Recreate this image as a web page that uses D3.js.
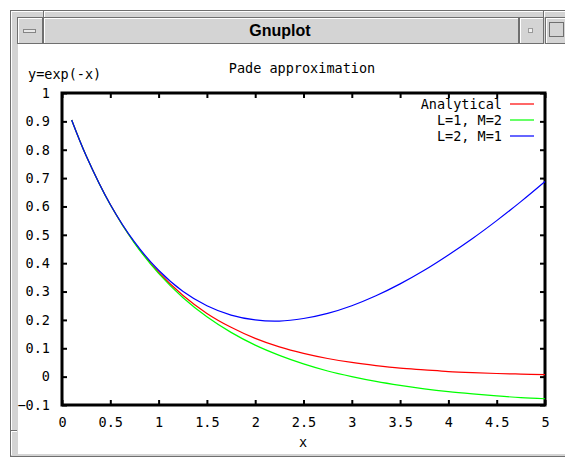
<!DOCTYPE html>
<html>
<head>
<meta charset="utf-8">
<script src="https://cdn.jsdelivr.net/npm/d3@7"></script>
<style>
  body { margin: 0; background: #fff; }
  text { font-family: "DejaVu Sans Mono", monospace; font-size: 13.5px; fill: #000; }
</style>
</head>
<body>
<script>
const width = 565;
const height = 457;

// sample points along x
const xValues = [0.1, 0.25, 0.5, 0.75, 1, 1.25, 1.5, 1.75, 2, 2.25, 2.5, 2.75, 3, 3.25, 3.5, 3.75, 4, 4.25, 4.5, 4.75, 5];
// y=exp(-x)
const analytical = [0.905, 0.779, 0.607, 0.472, 0.368, 0.287, 0.223, 0.174, 0.135, 0.105, 0.082, 0.064, 0.050, 0.039, 0.030, 0.024, 0.018, 0.014, 0.011, 0.009, 0.007];
// L=1, M=2
const padeL1M2 = [0.905, 0.779, 0.606, 0.471, 0.364, 0.279, 0.211, 0.156, 0.111, 0.075, 0.045, 0.020, 0.000, -0.017, -0.031, -0.043, -0.053, -0.061, -0.068, -0.074, -0.078];
// L=2, M=1
const padeL2M1 = [0.905, 0.779, 0.607, 0.475, 0.375, 0.301, 0.250, 0.217, 0.200, 0.196, 0.205, 0.223, 0.250, 0.285, 0.327, 0.375, 0.429, 0.487, 0.550, 0.617, 0.688];

const seriesNames = ["Analytical", "L=1, M=2", "L=2, M=1"];
const seriesColors = ["#ff0000", "#00ff00", "#0000ff"];

const xTicks = [0, 0.5, 1, 1.5, 2, 2.5, 3, 3.5, 4, 4.5, 5];
const yTicks = [-0.1, 0, 0.1, 0.2, 0.3, 0.4, 0.5, 0.6, 0.7, 0.8, 0.9, 1];

const svg = d3.select("body").append("svg")
  .attr("width", width)
  .attr("height", height);

// --- window frame ---
const frameFill = "#d4d4d4";
const dark = "#6f6f6f";
const win = svg.append("g").attr("shape-rendering", "crispEdges");

win.append("rect").attr("x", 10).attr("y", 10).attr("width", 560).attr("height", 446)
  .attr("fill", frameFill).attr("stroke", dark);
win.append("line").attr("x1", 11).attr("x2", 570).attr("y1", 11.5).attr("y2", 11.5).attr("stroke", "#fff");
win.append("line").attr("x1", 11.5).attr("x2", 11.5).attr("y1", 11).attr("y2", 455).attr("stroke", "#fff");
// notches in the frame
[43, 543].forEach(x => {
  win.append("line").attr("x1", x + 0.5).attr("x2", x + 0.5).attr("y1", 10).attr("y2", 17).attr("stroke", dark);
  win.append("line").attr("x1", x + 1.5).attr("x2", x + 1.5).attr("y1", 11).attr("y2", 17).attr("stroke", "#fff");
});
win.append("line").attr("x1", 10).attr("x2", 17).attr("y1", 430.5).attr("y2", 430.5).attr("stroke", dark);
win.append("line").attr("x1", 11).attr("x2", 17).attr("y1", 431.5).attr("y2", 431.5).attr("stroke", "#fff");

// title bar pieces
function bevel(x, y, w, h) {
  win.append("rect").attr("x", x + 0.5).attr("y", y + 0.5).attr("width", w).attr("height", h)
    .attr("fill", frameFill).attr("stroke", dark);
  win.append("path").attr("d", `M${x + 1.5},${y + h - 0.5}V${y + 1.5}H${x + w - 0.5}`)
    .attr("fill", "none").attr("stroke", "#fff");
}
bevel(17, 17, 25, 26);
bevel(43, 17, 475, 26);
bevel(519, 17, 24, 26);
bevel(545, 17, 30, 26);
win.append("rect").attr("x", 23).attr("y", 29).attr("width", 12).attr("height", 3)
  .attr("fill", "#e8e8e8").attr("stroke", dark).attr("stroke-width", 0.8);
win.append("rect").attr("x", 528).attr("y", 28).attr("width", 4).attr("height", 4)
  .attr("fill", "#f0f0f0").attr("stroke", "#888").attr("stroke-width", 0.8);
win.append("rect").attr("x", 549.5).attr("y", 22.5).attr("width", 14).attr("height", 14)
  .attr("fill", frameFill).attr("stroke", dark);

svg.append("text")
  .attr("x", 280).attr("y", 36)
  .attr("text-anchor", "middle")
  .style("font-family", "'Liberation Sans', Arial, sans-serif")
  .style("font-size", "16px")
  .style("font-weight", "bold")
  .text("Gnuplot");

// plot canvas
win.append("rect").attr("x", 18).attr("y", 44).attr("width", 548).attr("height", 410).attr("fill", "#fff");

// --- chart ---
const x = d3.scaleLinear().domain([0, 5]).range([62, 545]);
const y = d3.scaleLinear().domain([-0.1, 1]).range([405, 93]);

const fmt = d => d3.format("")(+d.toFixed(1));

const axisStyle = g => {
  g.select(".domain").remove();
  g.selectAll(".tick line").attr("stroke", "#000").attr("stroke-width", 2);
  g.selectAll(".tick text").style("font-family", "'DejaVu Sans Mono', monospace").style("font-size", "13.5px").attr("fill", "#000");
};

svg.append("g").attr("transform", `translate(${x(0)},0)`)
  .call(d3.axisLeft(y).tickValues(yTicks).tickSizeInner(-5).tickSizeOuter(0).tickPadding(12).tickFormat(fmt))
  .call(axisStyle);
svg.append("g").attr("transform", `translate(${x(5)},0)`)
  .call(d3.axisRight(y).tickValues(yTicks).tickSizeInner(-5).tickSizeOuter(0).tickFormat(""))
  .call(axisStyle);
svg.append("g").attr("transform", `translate(0,${y(-0.1)})`)
  .call(d3.axisBottom(x).tickValues(xTicks).tickSizeInner(-5).tickSizeOuter(0).tickPadding(12).tickFormat(fmt))
  .call(axisStyle);
svg.append("g").attr("transform", `translate(0,${y(1)})`)
  .call(d3.axisTop(x).tickValues(xTicks).tickSizeInner(-5).tickSizeOuter(0).tickFormat(""))
  .call(axisStyle);

// border
svg.append("rect")
  .attr("x", x(0)).attr("y", y(1))
  .attr("width", x(5) - x(0)).attr("height", y(-0.1) - y(1))
  .attr("fill", "none").attr("stroke", "#000").attr("stroke-width", 3);

// curves
const line = d3.line()
  .x((d, i) => x(xValues[i]))
  .y(d => y(d))
  .curve(d3.curveCatmullRom);

[analytical, padeL1M2, padeL2M1].forEach((vals, i) => {
  svg.append("path")
    .datum(vals)
    .attr("d", line)
    .attr("fill", "none")
    .attr("stroke", seriesColors[i])
    .attr("stroke-width", 1.2);
});

// legend
const legend = svg.append("g");
seriesNames.forEach((name, i) => {
  const ly = 104 + i * 16;
  legend.append("text")
    .attr("x", 502).attr("y", ly).attr("dy", "0.35em")
    .attr("text-anchor", "end")
    .text(name);
  legend.append("line")
    .attr("x1", 510).attr("x2", 534)
    .attr("y1", ly).attr("y2", ly)
    .attr("stroke", seriesColors[i])
    .attr("stroke-width", 1.2);
});

// titles
svg.append("text").attr("x", 302).attr("y", 73).attr("text-anchor", "middle").text("Pade approximation");
svg.append("text").attr("x", 28).attr("y", 79).text("y=exp(-x)");
svg.append("text").attr("x", 303).attr("y", 447).attr("text-anchor", "middle").text("x");
</script>
</body>
</html>
